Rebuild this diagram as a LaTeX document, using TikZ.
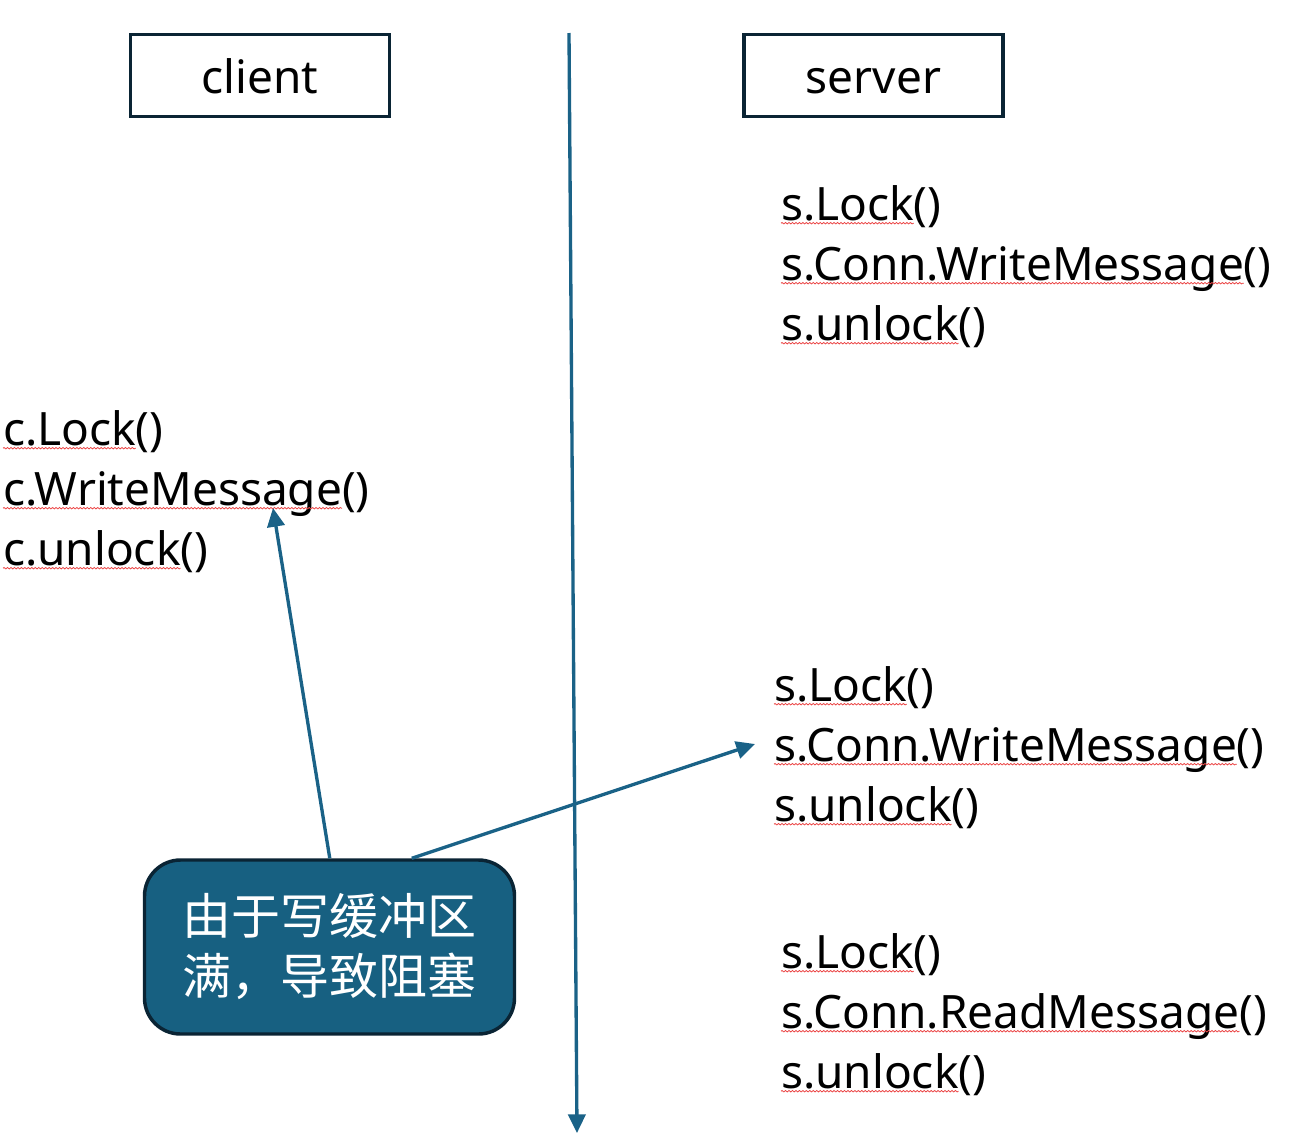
\documentclass[tikz,border=0pt]{standalone}
\usepackage{fontspec}
\setmainfont{Noto Sans}
\newfontfamily\cjk{Noto Sans CJK SC}
\usetikzlibrary{arrows.meta,decorations.pathmorphing}
\definecolor{lineblue}{RGB}{26,98,135}
\definecolor{boxfill}{RGB}{23,96,129}
\definecolor{darkedge}{RGB}{10,36,52}
\definecolor{squigred}{RGB}{235,70,70}
\tikzset{
  hdrbox/.style={draw=darkedge, line width=2.6pt, minimum width=194.25pt, minimum height=61.5pt, inner sep=0pt, text height=26.25pt, text depth=0pt, font=\fontsize{34.5pt}{45pt}\selectfont},
  codetxt/.style={anchor=base west, inner sep=0pt, outer sep=0pt, font=\fontsize{34.5pt}{45pt}\selectfont},
  codetail/.style={anchor=base west, inner sep=0pt, outer sep=0pt, font=\fontsize{34.5pt}{45pt}\selectfont},
  squig/.style={draw=squigred, line width=0.6pt, decorate, decoration={snake, amplitude=0.55pt, segment length=2.6pt}},
  flow/.style={draw=lineblue, line width=2.5pt, -{Triangle[length=14pt,width=13pt]}},
  notebox/.style={draw=darkedge, fill=boxfill, line width=2.6pt, rounded corners=27pt, minimum width=277.5pt, minimum height=130.5pt, inner sep=0pt, text=white, align=center, font=\cjk\fontsize{36.75pt}{45pt}\selectfont}
}
\newcommand{\codeline}[4]{% name, x, y, word
  \node[codetxt] (#1) at (#2,#3) {#4};
  \node[codetail] (#1p) at (#1.base east) {()};
  \draw[squig] ([yshift=-2.4pt]#1.base west) -- ([yshift=-2.4pt]#1.base east);
}
\begin{document}
\begin{tikzpicture}[x=0.75pt,y=-0.75pt]
\path[use as bounding box] (0,0) rectangle (1289,1136);

\node[hdrbox] (client) at (260,75.5) {client};
\node[hdrbox] (server) at (873.5,75.5) {server};

\coordinate (vtop) at (569,33);
\coordinate (vbot) at (577,1133);
\draw[flow] (vtop) -- (vbot);

% client code
\codeline{cA}{3}{445}{c.Lock}
\codeline{cB}{3}{505}{c.WriteMessage}
\codeline{cC}{3}{565}{c.unlock}

% server block 1
\codeline{sA}{781}{220}{s.Lock}
\codeline{sB}{781}{280}{s.Conn.WriteMessage}
\codeline{sC}{781}{340}{s.unlock}

% server block 2
\codeline{tA}{774}{701}{s.Lock}
\codeline{tB}{774}{761}{s.Conn.WriteMessage}
\codeline{tC}{774}{821}{s.unlock}

% server block 3
\codeline{uA}{781}{968}{s.Lock}
\codeline{uB}{781}{1028}{s.Conn.ReadMessage}
\codeline{uC}{781}{1088}{s.unlock}

\node[notebox] (note) at (329.5,947) {由于写缓冲区\\满，导致阻塞};

\coordinate (tipA) at (273,508);
\coordinate (tipB) at (755,744);
\draw[flow] (note.north west) ++(187,0) -- (tipA);
\draw[flow] (note.north west) ++(269,0) -- (tipB);
\end{tikzpicture}
\end{document}
